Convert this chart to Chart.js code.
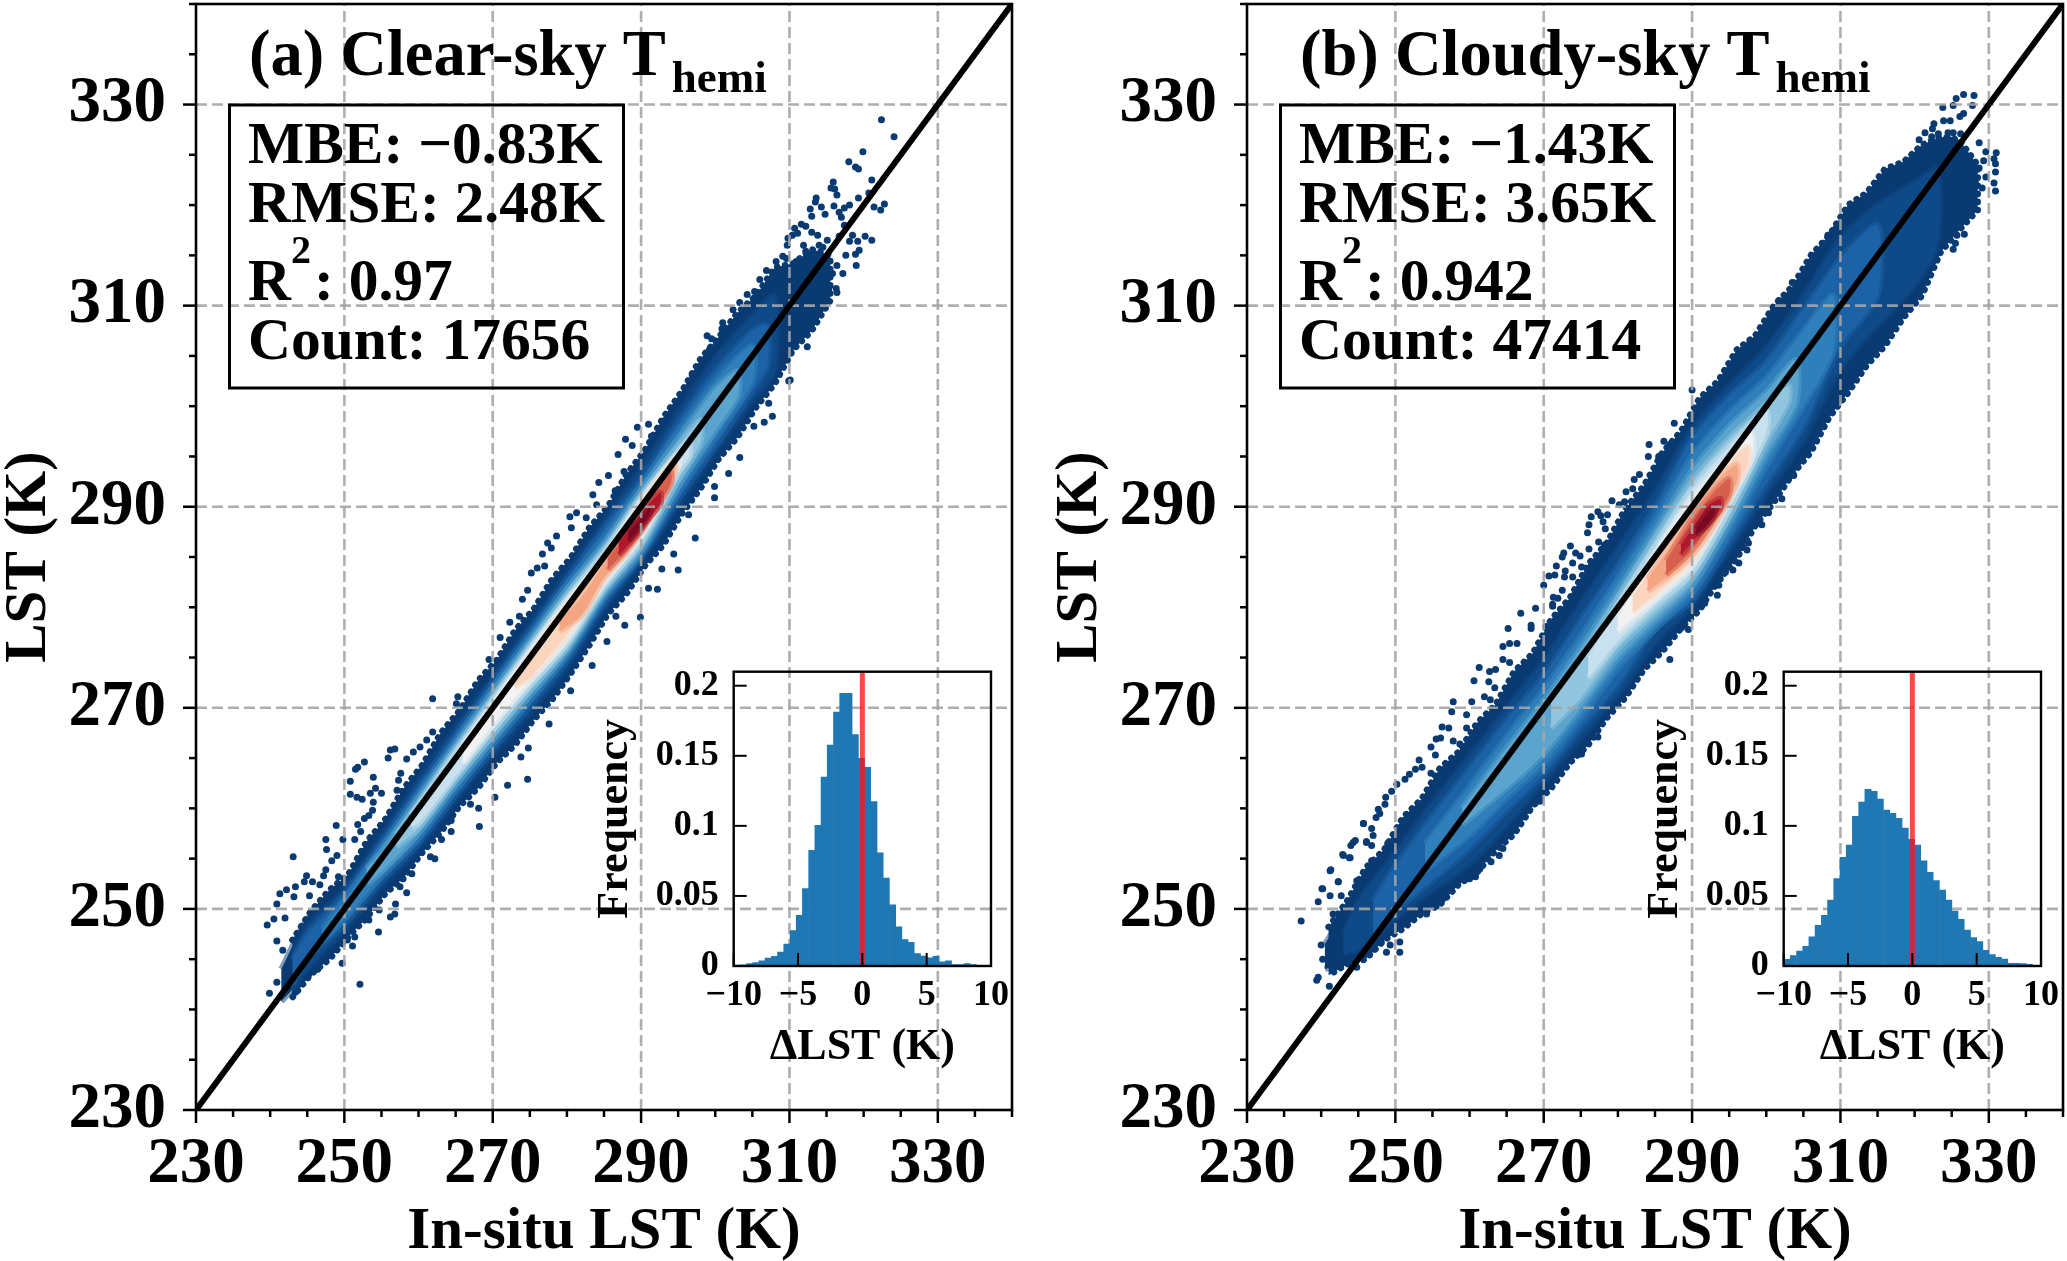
<!DOCTYPE html>
<html>
<head>
<meta charset="utf-8">
<title>LST validation</title>
<script src="https://cdn.jsdelivr.net/npm/chart.js@4"></script>
<style>
    body { margin: 0; background: #fff; width: 2067px; height: 1261px; overflow: hidden; }
    canvas { position: absolute; }
</style>
</head>
<body>
<canvas id="clearMain" width="1016" height="1261" style="left:0;top:0"></canvas>
<canvas id="cloudyMain" width="1016" height="1261" style="left:1051px;top:0"></canvas>
<canvas id="clearHist" width="426" height="430" style="left:590px;top:650px"></canvas>
<canvas id="cloudyHist" width="426" height="430" style="left:1640px;top:650px"></canvas>
<script>
var mainMajorTicks = [230, 250, 270, 290, 310, 330];
var mainGridLines = [250, 270, 290, 310, 330];
var oneToOne = [[230, 230], [340, 340]];

var clearStats = ['MBE: \u22120.83K', 'RMSE: 2.48K', ': 0.97', 'Count: 17656'];
var cloudyStats = ['MBE: \u22121.43K', 'RMSE: 3.65K', ': 0.942', 'Count: 47414'];

// histogram bins
var histBins = [-9.73, -9.25, -8.76, -8.28, -7.80, -7.32, -6.83, -6.35, -5.87, -5.38, -4.90, -4.42, -3.93, -3.45, -2.97, -2.49, -2.00, -1.52, -1.04, -0.55, -0.07, 0.41, 0.90, 1.38, 1.86, 2.35, 2.83, 3.31, 3.79, 4.28, 4.76, 5.24, 5.73, 6.21, 6.69, 7.18, 7.66, 8.14, 8.63, 9.11, 9.59, 10.07];
var clearHistValues = [.0007, .0009, .0017, .0024, .0036, .0057, .0069, .0100, .0157, .0252, .0361, .0552, .0825, .1003, .1348, .1576, .1812, .1945, .1945, .1652, .1481, .1417, .1174, .0808, .0628, .0437, .0280, .0188, .0169, .0088, .0071, .0059, .0069, .0029, .0036, .0010, .0010, .0017, .0010, .0005, .0002, .0002];
var cloudyHistValues = [.0048, .0074, .0107, .0140, .0209, .0290, .0361, .0471, .0623, .0775, .0863, .1068, .1170, .1260, .1246, .1191, .1113, .1089, .1053, .0984, .0903, .0863, .0751, .0668, .0609, .0542, .0471, .0392, .0333, .0257, .0202, .0174, .0112, .0081, .0062, .0050, .0019, .0019, .0017, .0012, .0005, .0002];

// density bands, one list per colour: [in-situ, upper LST, lower LST]
var levelColors = ['#093a72', '#0f4a88', '#1c62a6', '#2f7fba', '#5aa4cd', '#92c5de', '#c9e1ee', '#f2f2f2', '#fcd5bf', '#f4a582', '#d6604d', '#b2182b', '#7a0a22'];

var clearLevel0 = [[241.5, 244, 240.8], [245, 249, 243.5], [250, 252.4, 247.2], [255, 258, 251.5], [260, 263.4, 255.5], [265, 268.8, 260.2], [270, 273.7, 264.5], [275, 278.8, 268.8], [280, 283.9, 273.2], [285, 289, 279.2], [290, 294.5, 284], [295, 300.4, 289.2], [300, 306, 294.7], [305, 310, 299.8], [308, 312.8, 303], [311, 313.5, 306.5], [312.5, 312.5, 309]];
var clearLevel1 = [[243, 245.5, 242], [245, 248.3, 244], [250, 252, 247.9], [255, 257.3, 252.2], [260, 262.8, 256], [265, 268.1, 260.8], [270, 273.1, 265.3], [275, 278.2, 269.5], [280, 283.4, 274], [285, 288.5, 279.8], [290, 293.8, 284.6], [295, 299.4, 290.1], [300, 304.8, 295.4], [305, 309, 300.6], [308, 311, 303.5]];
var clearLevel2 = [[243, 245, 242.6], [245, 247.5, 245], [250, 251.5, 248.5], [255, 256.7, 252.8], [260, 262.1, 256.5], [265, 267.4, 261.3], [270, 272.6, 265.8], [275, 277.7, 270.2], [280, 282.8, 274.6], [285, 287.9, 280.3], [290, 292.7, 284.9], [295, 298.4, 290.7], [300, 303.5, 296], [305, 307.5, 301.5], [307, 308, 304]];
var clearLevel3 = [[247, 248, 246.8], [250, 250.9, 249], [255, 256.2, 253.2], [260, 261.6, 257], [265, 266.9, 261.8], [270, 272.1, 266.3], [275, 277.2, 270.7], [280, 282.3, 275.1], [285, 287, 280.8], [290, 292.2, 285.2], [295, 297.5, 291.4], [300, 302.5, 296.9], [305, 306, 302.5]];
var clearLevel4 = [[253, 254, 252.5], [255, 255.7, 253.7], [260, 261.1, 257.5], [265, 266.4, 262.3], [270, 271.6, 266.8], [275, 276.7, 271.2], [280, 281.8, 275.5], [285, 286.3, 281.2], [290, 291.7, 285.6], [295, 296.7, 292], [300, 301.7, 297.6], [303, 303.5, 301]];
var clearLevel5 = [[257, 257.4, 256.2], [260, 260.6, 258], [265, 266, 262.8], [270, 271.1, 267.3], [275, 276.3, 271.7], [280, 281.3, 275.9], [285, 285.9, 281.6], [290, 291.2, 286.1], [295, 296, 292.7], [298, 298.6, 296.4]];
var clearLevel6 = [[259, 259.3, 258.2], [260, 260.3, 258.5], [265, 265.6, 263.2], [270, 270.8, 267.8], [275, 275.9, 272.2], [280, 280.9, 276.3], [285, 285.5, 282], [290, 290.9, 286.5], [295, 295.5, 293.4], [296.5, 296.6, 295]];
var clearLevel7 = [[266, 266.3, 264.5], [270, 270.4, 268.3], [275, 275.6, 272.7], [280, 280.6, 276.8], [285, 285, 282.4], [290, 290.6, 287.1], [295, 295.2, 293.9]];
var clearLevel8 = [[273, 272.9, 272], [275, 275, 273], [280, 280.3, 277.3], [285, 284.6, 282.9], [290, 290.3, 287.6], [294, 294.2, 292.9]];
var clearLevel9 = [[279, 278.6, 277.6], [282, 281, 279.2], [285, 284.3, 282.9], [288, 287.3, 285.4], [291, 290.6, 288.6], [294.5, 294.6, 293.2]];
var clearLevel10 = [[285.5, 284.8, 283.7], [288, 287.3, 285.7], [291, 290.4, 288.7], [294, 293.4, 292.2]];
var clearLevel11 = [[287, 286.4, 285.2], [289, 288.4, 286.8], [291, 290.2, 288.8], [292.6, 291.4, 290.3]];
var clearLevel12 = [[288.3, 287.4, 286.6], [290, 288.8, 288], [291.2, 289.9, 289.3]];
var clearFringe = [[243, 246.9, 241.2], [245.5, 249.8, 243.5], [248, 251.9, 245], [250.5, 253.4, 247.2], [253, 256.7, 249.1], [255.5, 258.9, 251.5], [258, 262, 253.1], [260.5, 264.3, 255.6], [263, 267.5, 257.6], [265.5, 269.7, 260.2], [268, 272.7, 262], [270.5, 274.7, 264.5], [273, 277.7, 266.3], [275.5, 279.8, 268.8], [278, 282.8, 270.8], [280.5, 284.9, 273.4], [283, 287.9, 276.2], [285.5, 290, 279.3], [288, 293.2, 281.3], [290.5, 295.6, 284.1], [293, 298.9, 286.2], [295.5, 301.5, 289.3], [298, 304.7, 291.8], [300.5, 306.9, 294.8], [303, 309.3, 296.9], [305.5, 311, 299.9], [308, 313.8, 302.2], [310.5, 314.2, 305.6], [313, 315.6, 307.5], [315.5, 315, 310.5]];

var cloudyLevel0 = [[240.5, 246.5, 244], [245, 251.8, 245.2], [250, 256.8, 248.3], [255, 261.8, 250.6], [260, 266.2, 253.7], [265, 271.2, 257.3], [270, 276.4, 262], [275, 281.9, 266.2], [280, 287.5, 270.8], [285, 293.1, 275.6], [290, 298.5, 279.5], [295, 303.4, 284.5], [300, 307.7, 290.2], [305, 312.7, 295], [310, 318, 301.2], [315, 321.7, 305.8], [320, 324.5, 310.7], [324, 326, 316.5], [327, 323, 319]];
var cloudyLevel1 = [[243, 247.5, 245.5], [245, 250.8, 246], [250, 255.6, 249], [255, 260.6, 251.8], [260, 265.2, 254.5], [265, 270, 258.3], [270, 274.7, 262.6], [275, 280.4, 267], [280, 285.9, 271.3], [285, 291.5, 276.4], [290, 297.8, 280.2], [295, 302, 285.6], [300, 305.8, 291.2], [305, 311, 296.6], [310, 316.7, 303.8], [315, 320, 308], [320, 322.3, 312], [323, 323.5, 316]];
var cloudyLevel2 = [[247, 250.8, 247.2], [250, 254.3, 249.8], [255, 259.3, 252.8], [260, 264, 256], [265, 268.8, 259.8], [270, 273.2, 263.4], [275, 278.8, 268], [280, 284.2, 272.3], [285, 290, 277.8], [290, 296.8, 280.6], [295, 301, 286.4], [300, 304.4, 292.3], [305, 309.6, 298], [310, 314.7, 306], [315, 318, 311]];
var cloudyLevel3 = [[254, 256.5, 253.8], [260, 262.2, 257.3], [265, 267.2, 261], [270, 271.9, 264.4], [275, 277.2, 269], [280, 282.9, 273.9], [285, 288.8, 277.8], [290, 295.1, 281.4], [295, 299.4, 287.3], [300, 302.8, 294], [305, 307.5, 300], [309, 311, 305.5]];
var cloudyLevel4 = [[259, 260, 258.4], [265, 266, 262], [270, 270.7, 265.4], [275, 276, 270], [280, 281.7, 274.9], [285, 287.6, 278.6], [290, 293.6, 282.2], [295, 298, 288.3], [300, 301.4, 295.2], [304, 304.6, 300.2]];
var cloudyLevel5 = [[271, 270.8, 268], [275, 275, 271], [280, 280.9, 275.9], [285, 286.8, 279.4], [290, 292.5, 282.9], [295, 296.8, 289], [300, 300.2, 296.4], [303, 302, 300.4]];
var cloudyLevel6 = [[276, 275, 273], [280, 280.2, 276.6], [285, 286, 280.2], [290, 291.7, 283.5], [295, 296, 289.8], [300, 299.5, 297.3]];
var cloudyLevel7 = [[280, 279, 277.6], [285, 285.2, 280.8], [290, 290.8, 284.2], [295, 295, 290.6], [298, 297.3, 294.8]];
var cloudyLevel8 = [[282, 281, 279.5], [285, 284.4, 281.3], [290, 290.2, 284.7], [295, 294.4, 291], [297.5, 296, 294.2]];
var cloudyLevel9 = [[284, 282.8, 281.6], [287, 286, 283.2], [290, 289.5, 285.2], [293, 292.3, 288.2], [296, 294.2, 292.4]];
var cloudyLevel10 = [[286.5, 284.6, 283.2], [290, 288.8, 285.7], [293, 291.5, 288.8], [295, 292.8, 291.2]];
var cloudyLevel11 = [[288.5, 286.2, 285.2], [290, 287.8, 286.5], [292, 290, 288.2], [293.8, 290.8, 289.8]];
var cloudyLevel12 = [[290.5, 287.8, 287.2], [292, 289.3, 288.1], [293, 289.9, 289.2]];
var cloudyFringe = [[241, 248.2, 243.4], [243.5, 250.8, 244.5], [246, 254.1, 245], [248.5, 255.9, 246.9], [251, 259.1, 248], [253.5, 260.9, 249.5], [256, 264, 250.4], [258.5, 265.6, 252.4], [261, 268.5, 253.6], [263.5, 270.3, 255.8], [266, 273.6, 257.4], [268.5, 275.4, 260.2], [271, 278.8, 262], [273.5, 280.9, 264.5], [276, 284.3, 266.3], [278.5, 286.4, 269], [281, 289.8, 271], [283.5, 292.1, 273.8], [286, 295.4, 275.6], [288.5, 297.5, 277.9], [291, 300.8, 279.7], [293.5, 302.5, 282.6], [296, 305.6, 284.8], [298.5, 307, 288.1], [301, 310, 290.4], [303.5, 311.9, 293.2], [306, 315, 295.4], [308.5, 317, 298.9], [311, 320, 301.3], [313.5, 321.2, 304], [316, 323.6, 306], [318.5, 324.3, 308.8], [321, 326, 311], [323.5, 326.8, 315.3], [326, 326.5, 317.5], [328.5, 324, 319.5]];

// sparse points outside the dense band, [in-situ, LST]
var clearDots = [[239.6, 248.4], [240.5, 249], [242, 249.1], [240.9, 250.5], [241.3, 251.5], [242.2, 251.9], [243.1, 255.2], [243.2, 251.2], [243.4, 252.2], [244.6, 252.7], [244.9, 253.3], [245.7, 252.7], [246.7, 252.4], [245.3, 251.3], [247.5, 253.9], [247.2, 253.3], [248.3, 254.8], [249, 255.3], [247.6, 255.9], [247.5, 256.9], [248.9, 258.3], [249.8, 256.9], [249.2, 253.2], [251.4, 256.9], [251.8, 258.4], [252.2, 257.7], [252.7, 259], [253.3, 259.3], [253.8, 259.8], [250.8, 261.4], [250.8, 262.7], [251.5, 263.9], [251.8, 264.1], [252.7, 264.6], [253.9, 263.1], [251.7, 261.1], [252.4, 260.9], [253.5, 261.5], [254.2, 262], [255, 261.5], [253.9, 260.6], [255.9, 265], [256.2, 265.8], [256.8, 265.9], [257.3, 262.8], [257.6, 263.5], [257.1, 261.8], [258.4, 264.9], [259.3, 265.6], [260.2, 266.1], [261.1, 266.8], [261.9, 267.6], [261.9, 270.9], [265.3, 271.1], [265.1, 270.4], [267.2, 271.4],
    [252.1, 242.5], [249.7, 244.6], [251.1, 246.3], [251.4, 247.2], [250.4, 246.9], [254.6, 247.7], [245.2, 243.5], [246.4, 244], [243.4, 241.7], [239.9, 241.6], [240.9, 242.7], [241.7, 245.9], [240.9, 246.8], [251.8, 249], [253.3, 248.9], [256.2, 249.2], [256.9, 250.5], [256.8, 249.5], [254.7, 249.9], [258.4, 251.6], [257.5, 252.2], [259.1, 253.5], [257.9, 253], [262.2, 255], [261.6, 255.2], [264.4, 257.7], [263.1, 256.9], [264.4, 258.8], [268.2, 258.2], [268.1, 260], [267, 260.4], [270.3, 261.1], [272, 262.3], [274.7, 262.9], [273.8, 265.1], [277.6, 268.4], [274.8, 266],
    [271, 277], [269.5, 274.8], [272.3, 278.5], [273.6, 279.1], [274, 280.8], [274.7, 281.7], [275.2, 283.4], [276, 283.9], [277, 284.1], [276.7, 285.3], [277.4, 286.4], [278.6, 287.1], [277.9, 285.9], [280.4, 289], [281.3, 289.4], [280.6, 287.9], [283.5, 291.2], [284.3, 292.4], [285.6, 293.1], [286.9, 295.2], [287.9, 296.7], [288.8, 296.1], [289.5, 297.9], [291, 298.2], [291.4, 297], [287.7, 293.5], [286.5, 291.6], [294.2, 299], [295.5, 300.3], [297, 303.2], [298.1, 304], [284, 290.2], [282.6, 288.9],
    [297.3, 286.9], [295, 283.7], [294.4, 285.3], [292.2, 281.8], [291, 281.9], [289.9, 279], [287.8, 278.2], [286.6, 279.1], [285.4, 276.6], [283.4, 274.2], [280.5, 271.7], [299.9, 290.9], [299.9, 292], [301.8, 293.3], [303.3, 294.9], [307.7, 299], [306.6, 298.4], [305.2, 298], [310.1, 302.6], [292.8, 283.8], [296.4, 289.2],
    [322.4, 328.5], [324.1, 326.8], [319.9, 325.3], [318, 324.3], [318.9, 323.8], [319.3, 323.6], [321.1, 322.5], [315.9, 322.3], [315.6, 321.7], [316.1, 321.6], [316.4, 321], [313.6, 320.7], [313.5, 320.3], [314.3, 319.8], [316, 319.9], [319.3, 320.7], [318.1, 320], [317.4, 319.7], [320.7, 321.2], [322.8, 320.1], [321.4, 319.8], [322.3, 319.5], [312.8, 319.6], [313, 318.9], [314.8, 319.1], [316.7, 319.3], [317, 318.8], [317.4, 318], [311.6, 318.1], [312.2, 317.9], [310.7, 317.7], [310.4, 317], [309.8, 316.7], [309.7, 316], [311.1, 317.2], [313, 317.3], [313.8, 317], [314, 316], [314.5, 315.8], [315.1, 316.5], [311.9, 316], [312.2, 315.4], [313.1, 315], [320.2, 316.9], [321.1, 316.5], [318.5, 317], [318.1, 316.4], [319.2, 316.4], [319.4, 315.5], [318.9, 315.1], [319, 314], [317.2, 313.2], [317.6, 315], [316.7, 316.9], [316.4, 314], [316.3, 311.7], [316.4, 311.3], [315.3, 311.7], [315.8, 313.2], [314.9, 312.4], [309.1, 314.9], [308.2, 314.4], [309.6, 314.7], [310.9, 314.4], [306.9, 313.5], [307.8, 313.1], [306, 312.6], [308.9, 312.2], [304.3, 311.1], [305.3, 311.4], [308.4, 311.2], [305.7, 311.1], [303.3, 310.3], [302.4, 309.6], [301, 308.3], [300.9, 307.7], [298.9, 307], [299.5, 306.7], [299.2, 305.6], [312.4, 305.9], [312.7, 308.4], [298.1, 303.9], [296.9, 303.1], [307.2, 300.3], [309.9, 302.5], [309.6, 304.9]];

var cloudyDots = [[237.3, 248.8], [241.1, 242.3], [239.4, 242.9], [239.6, 243.2], [240, 246.4], [240.2, 245], [239.6, 250.7], [240.2, 252], [241.2, 251.3], [241.2, 253.8], [242.3, 252.7], [242.7, 251.3], [244.3, 250.8], [245.7, 258.5], [243, 255.3], [243.9, 255.1], [244.3, 256.6], [244.8, 252.8], [246.1, 256.6], [246.8, 254.8], [248.8, 245.7], [249.3, 246.4], [250.6, 245.7], [250.6, 246.7], [248.1, 246.7], [247.1, 246], [244.8, 244.2], [241.6, 249.5], [247.4, 259.1], [247.9, 259.5], [248.6, 260.4], [249, 256.5], [247, 257.3],
    [240.1, 252], [241.3, 253.9], [242.3, 252.7], [242.9, 255.4], [243.8, 255.1], [244, 256.3], [244.6, 256.8], [246.1, 256.7], [246.8, 256.3], [245.7, 258.5], [246.8, 258], [247.7, 259.9], [248.7, 261.1], [249.5, 261.7], [249, 256.5], [250.2, 262.4], [251.3, 262.9], [251.9, 263.4], [252.7, 263.9], [253.2, 264.8], [253.6, 264.1], [254.8, 263.5], [255.4, 265.3], [255.5, 266.9], [254.8, 266.1], [256.1, 267], [256.3, 268.1], [257.2, 268], [257.8, 270.6], [257.6, 269.6], [259.6, 269.3], [259.6, 268], [260.3, 270.6], [257.1, 264.3], [257.8, 266.7], [258.7, 266.4], [260, 266.7], [260.6, 272.7], [261.3, 274], [262.6, 272.6], [262.7, 273.6], [263.5, 273.8], [262, 271.1], [262.8, 270.8], [263.4, 272], [264.5, 274.8], [264.5, 276.1], [265.4, 276.4], [266.4, 276.4], [265.2, 277.9], [266.9, 279.4], [268.3, 277.9], [268.3, 278.2], [268.9, 279.9], [271.2, 280.3], [265.4, 274.5],
    [275.1, 265.4], [277.3, 267.1], [269.5, 260.7], [268.4, 261], [268, 259.8], [270.3, 262.3], [272.6, 264.1], [262.9, 254.7], [264, 255.3], [264.5, 256], [261.4, 254], [260, 253], [260.8, 253.2], [256.4, 251], [255.5, 250.3], [254.2, 249.5], [278.2, 269.1],
    [290, 301.6], [292.1, 300.9], [290.9, 299.8], [287.6, 298.3], [289.4, 297.6], [284.2, 296.2], [286.2, 296.5], [284.1, 295], [285.5, 295], [287, 296.2], [286.5, 294.8], [282.9, 293.2], [282.2, 292.7], [284.5, 292.9], [282, 291.8], [281.1, 291.5], [279.2, 290.6], [282.7, 291], [280.2, 290.2], [280.9, 290.5], [277.3, 289.5], [276.4, 289], [278.6, 289.2], [277.7, 289.1], [276.1, 288.2], [275.9, 287.4], [278.3, 287.8], [278, 288.5], [273.6, 286.1], [277.4, 286.5], [278.2, 286.2], [278.9, 286.4], [276.1, 285.8], [272.7, 285.4], [272.5, 285], [274.3, 285.4], [274.9, 285.1], [273.9, 284.4], [275.1, 284], [277.3, 284.4], [271.7, 284.1], [272.9, 283.6], [272.8, 283], [273.9, 283], [270.7, 283.1], [271.5, 283.2], [270, 282.2], [272.5, 281.7], [271.3, 281], [274.2, 281.3], [271.2, 280.1], [271.9, 280.9], [270.3, 278.1], [272.1, 278.7], [270.8, 277.6],
    [287, 274.8], [287.1, 277.6], [288.6, 278], [289.5, 277.8], [289.8, 279.1], [291.7, 280.4], [290.9, 280.7], [293.4, 281.2], [292.6, 282.4], [293.6, 282.2], [293.8, 282.8], [295.5, 283.7], [294.5, 283.5], [296.3, 284.4], [297.6, 286.4], [297.4, 285.7], [296.5, 285.9], [299.4, 288.2], [298.8, 288.3], [300.3, 289.4], [302.1, 290.8], [302, 292.1], [303.7, 293.1], [303, 292.8], [307, 297.5],
    [326.6, 331], [328, 330.9], [325.6, 330.6], [325.2, 329.9], [327.8, 329.9], [323.8, 329.7], [326.6, 329.1], [326.1, 328.8], [324.8, 328.4], [323.9, 328.4], [322.6, 328.1], [322.4, 327.6], [321.4, 327.2], [324.5, 327.2], [325.2, 327.2], [326.2, 327.1], [322.3, 326.8], [323.2, 327.1], [324.7, 326.5], [328.7, 326.2], [322.6, 325.9], [320.6, 326.5], [323.9, 325.5], [321.8, 325.2], [323.3, 325.2], [329.6, 325.3], [331, 325.2], [330.7, 324.6], [330.9, 324.1], [329.3, 324.4], [328.7, 323.7], [327.1, 323.8], [326.6, 323.2], [330.9, 323.3], [329.6, 322.8], [330.7, 322.2], [330.9, 321.4], [324, 322.6], [325.1, 322.7], [328.2, 322.2], [326.9, 321.8], [329.1, 321.7], [326.7, 317.1], [325.5, 316.2], [325.2, 315.6], [325.7, 317],
    [316.5, 323.2], [314.9, 321.8], [314.2, 320.7], [311.1, 319.4], [309.4, 317.7], [308.3, 317], [307.6, 316.2], [303.5, 312.3], [301.7, 310.5], [300.9, 309.4], [300, 307.7], [299.1, 306.9], [297.8, 306.4]];

var clearLevels = [clearLevel0, clearLevel1, clearLevel2, clearLevel3, clearLevel4, clearLevel5, clearLevel6, clearLevel7, clearLevel8, clearLevel9, clearLevel10, clearLevel11, clearLevel12];
var cloudyLevels = [cloudyLevel0, cloudyLevel1, cloudyLevel2, cloudyLevel3, cloudyLevel4, cloudyLevel5, cloudyLevel6, cloudyLevel7, cloudyLevel8, cloudyLevel9, cloudyLevel10, cloudyLevel11, cloudyLevel12];

var serifFont = '"Liberation Serif", "Times New Roman", serif';

function toPoints(pairs) {
    return pairs.map(function (p) { return { x: p[0], y: p[1] }; });
}

function bandRing(rows) {
    var upper = rows.map(function (r) { return { x: r[0], y: r[1] }; });
    var lower = rows.map(function (r) { return { x: r[0], y: r[2] }; }).reverse();
    return upper.concat(lower);
}

function squeezeAxis(width, height) {
    return function (scale) {
        if (width) { scale.width = width; }
        if (height) { scale.height = height; }
        scale.paddingLeft = 0;
        scale.paddingRight = 0;
        scale.paddingTop = 0;
        scale.paddingBottom = 0;
    };
}

// spines and ticks, so that major and minor ticks can differ in length
function framePlugin(cfg) {
    return {
        id: 'frame',
        afterDatasetsDraw: function (chart) {
            var a = chart.chartArea, ctx = chart.ctx;
            var dir = cfg.inward ? 1 : -1;
            ctx.save();
            ctx.strokeStyle = '#000';
            ctx.lineWidth = cfg.tickWidth;
            chart.scales.x.ticks.forEach(function (t) {
                var major = !cfg.majors || cfg.majors.indexOf(t.value) >= 0;
                var px = chart.scales.x.getPixelForValue(t.value);
                ctx.beginPath();
                ctx.moveTo(px, a.bottom);
                ctx.lineTo(px, a.bottom - dir * (major ? cfg.majorLen : cfg.minorLen));
                ctx.stroke();
            });
            chart.scales.y.ticks.forEach(function (t) {
                var major = !cfg.majors || cfg.majors.indexOf(t.value) >= 0;
                var py = chart.scales.y.getPixelForValue(t.value);
                ctx.beginPath();
                ctx.moveTo(a.left, py);
                ctx.lineTo(a.left + dir * (major ? cfg.majorLen : cfg.minorLen), py);
                ctx.stroke();
            });
            ctx.lineWidth = cfg.spineWidth;
            ctx.strokeRect(a.left, a.top, a.right - a.left, a.bottom - a.top);
            ctx.restore();
        }
    };
}

// grid goes over the density bands but under the 1:1 line
var gridPlugin = {
    id: 'dashGrid',
    beforeDatasetDraw: function (chart, args) {
        if (args.index !== 0) { return; }
        var a = chart.chartArea, ctx = chart.ctx;
        ctx.save();
        ctx.strokeStyle = 'rgba(165,165,165,0.9)';
        ctx.lineWidth = 2.6;
        ctx.setLineDash([11, 5]);
        mainGridLines.forEach(function (v) {
            var px = chart.scales.x.getPixelForValue(v);
            var py = chart.scales.y.getPixelForValue(v);
            ctx.beginPath();
            ctx.moveTo(px, a.bottom);
            ctx.lineTo(px, a.top);
            ctx.moveTo(a.left, py);
            ctx.lineTo(a.right, py);
            ctx.stroke();
        });
        ctx.restore();
    }
};

function annotationPlugin(letterTitle, stats) {
    return {
        id: 'annotations',
        afterDraw: function (chart) {
            var ctx = chart.ctx;
            ctx.save();
            ctx.fillStyle = '#000';
            ctx.textBaseline = 'alphabetic';
            ctx.textAlign = 'left';

            ctx.font = 'bold 64.5px ' + serifFont;
            ctx.fillText(letterTitle, 249, 75);
            var titleWidth = ctx.measureText(letterTitle).width;
            ctx.font = 'bold 45px ' + serifFont;
            ctx.fillText('hemi', 249 + titleWidth + 6, 92);

            ctx.strokeStyle = '#000';
            ctx.lineWidth = 3;
            ctx.strokeRect(229.5, 105, 394, 283);

            ctx.font = 'bold 59.5px ' + serifFont;
            ctx.fillText(stats[0], 248, 163);
            ctx.fillText(stats[1], 248, 222);
            ctx.fillText('R', 248, 300);
            ctx.fillText(stats[2], 314, 300);
            ctx.fillText(stats[3], 248, 359);
            ctx.font = 'bold 40px ' + serifFont;
            ctx.fillText('2', 291, 263);
            ctx.restore();
        }
    };
}

function buildMainChart(canvasId, levels, fringe, dots, letterTitle, stats) {
    var datasets = [{
        data: toPoints(oneToOne),
        showLine: true,
        borderColor: '#000',
        borderWidth: 6,
        pointRadius: 0,
        order: 0
    }];
    for (var i = levels.length - 1; i >= 0; i--) {
        datasets.push({
            data: bandRing(levels[i]),
            showLine: true,
            fill: 'shape',
            tension: 0.25,
            backgroundColor: levelColors[i],
            borderColor: levelColors[i] + '80',
            borderWidth: 6,
            pointRadius: 0,
            order: levels.length - i
        });
    }
    // scalloped outer edge of the cloud, where single dots start to show
    datasets.push({
        data: bandRing(fringe),
        showLine: true,
        fill: 'shape',
        backgroundColor: levelColors[0],
        borderColor: levelColors[0],
        borderWidth: 6.6,
        borderDash: [0.1, 8],
        borderCapStyle: 'round',
        pointRadius: 0,
        order: levels.length + 1
    });
    datasets.push({
        data: toPoints(dots),
        backgroundColor: levelColors[0],
        borderWidth: 0,
        pointRadius: 3.5,
        order: levels.length + 2
    });

    function axis(titleText, fit, padding, titlePadding) {
        return {
            type: 'linear',
            min: 230,
            max: 340,
            afterFit: fit,
            border: { display: false },
            grid: { display: false, drawTicks: false },
            ticks: {
                stepSize: 5,
                autoSkip: false,
                maxRotation: 0,
                padding: padding,
                color: '#000',
                font: { family: serifFont, size: 65, weight: 'bold' },
                callback: function (v) { return mainMajorTicks.indexOf(v) >= 0 ? String(v) : ''; }
            },
            title: {
                display: true,
                text: titleText,
                color: '#000',
                padding: titlePadding,
                font: { family: serifFont, size: 59, weight: 'bold', lineHeight: 1 }
            }
        };
    }

    new Chart(document.getElementById(canvasId), {
        type: 'scatter',
        data: { datasets: datasets },
        options: {
            responsive: false,
            animation: false,
            devicePixelRatio: 1,
            layout: { padding: { left: 0, right: 3, top: 2, bottom: 0 } },
            plugins: { legend: { display: false }, tooltip: { enabled: false } },
            scales: {
                x: axis('In-situ LST (K)', squeezeAxis(0, 151), 16, { top: 0, bottom: -1 }),
                y: axis('LST (K)', squeezeAxis(196, 0), 30, { top: 0, bottom: 0 })
            }
        },
        plugins: [gridPlugin, framePlugin({ majors: mainMajorTicks, inward: false, majorLen: 13, minorLen: 7, tickWidth: 2.5, spineWidth: 2.6 }), annotationPlugin(letterTitle, stats)]
    });
}

function buildHistChart(canvasId, values) {
    var bars = histBins.map(function (b, i) { return { x: b, y: values[i] }; });
    var font = { family: serifFont, size: 36, weight: 'bold' };
    var titleFont = { family: serifFont, size: 44, weight: 'bold', lineHeight: 1 };

    new Chart(document.getElementById(canvasId), {
        type: 'bar',
        data: {
            datasets: [{
                type: 'line',
                data: [{ x: 0, y: 0 }, { x: 0, y: 0.21 }],
                borderColor: 'rgba(255,20,20,0.78)',
                borderWidth: 5,
                pointRadius: 0,
                order: 0
            }, {
                data: bars,
                backgroundColor: '#1f77b4',
                barPercentage: 1,
                categoryPercentage: 1,
                borderWidth: 0,
                order: 1
            }]
        },
        options: {
            responsive: false,
            animation: false,
            devicePixelRatio: 1,
            layout: { padding: { left: 0, right: 25, top: 21.7, bottom: 0 } },
            plugins: { legend: { display: false }, tooltip: { enabled: false } },
            scales: {
                x: {
                    type: 'linear',
                    min: -10,
                    max: 10,
                    offset: false,
                    afterFit: squeezeAxis(0, 114),
                    border: { display: false },
                    grid: { display: false, drawTicks: false, offset: false },
                    ticks: {
                        stepSize: 5,
                        autoSkip: false,
                        maxRotation: 0,
                        padding: 8,
                        color: '#000',
                        font: font,
                        callback: function (v) { return String(v).replace('-', '\u2212'); }
                    },
                    title: { display: true, text: '\u0394LST (K)', color: '#000', padding: { top: 0, bottom: 10 }, font: titleFont }
                },
                y: {
                    min: 0,
                    max: 0.21,
                    afterFit: squeezeAxis(143.7, 0),
                    border: { display: false },
                    grid: { display: false, drawTicks: false },
                    ticks: {
                        stepSize: 0.05,
                        includeBounds: false,
                        padding: 15,
                        color: '#000',
                        font: font,
                        callback: function (v) { return String(+v.toFixed(2)); }
                    },
                    title: { display: true, text: 'Frequency', color: '#000', padding: { top: 4, bottom: 0 }, font: titleFont }
                }
            }
        },
        plugins: [framePlugin({ inward: true, majorLen: 13, minorLen: 13, tickWidth: 2, spineWidth: 2.4 })]
    });
}

buildMainChart('clearMain', clearLevels, clearFringe, clearDots, '(a) Clear-sky T', clearStats);
buildMainChart('cloudyMain', cloudyLevels, cloudyFringe, cloudyDots, '(b) Cloudy-sky T', cloudyStats);
buildHistChart('clearHist', clearHistValues);
buildHistChart('cloudyHist', cloudyHistValues);
</script>
</body>
</html>
